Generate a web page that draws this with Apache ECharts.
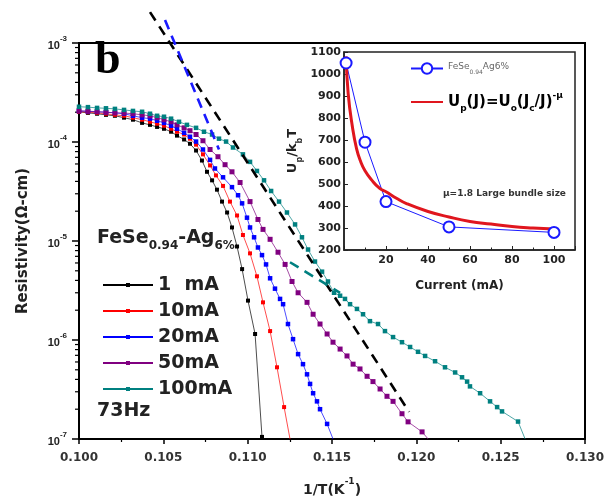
<!DOCTYPE html>
<html>
<head>
<meta charset="utf-8">
<script src="https://cdn.jsdelivr.net/npm/echarts@6/dist/echarts.min.js"></script>
<style>
html,body{margin:0;padding:0;background:#fff}
#chart{width:608px;height:502px}
</style>
</head>
<body>
<div id="chart"></div>
<script>
// main panel: resistivity vs 1/T for five currents (73 Hz)
var currents = ['1  mA', '10mA', '20mA', '50mA', '100mA'];
var colors = ['#000000', '#ff0000', '#0000ff', '#800080', '#008080'];

var invT1 = [0.10000,0.10053,0.10107,0.10160,0.10213,0.10267,0.10320,0.10374,0.10421,0.10463,
  0.10504,0.10546,0.10581,0.10623,0.10658,0.10694,0.10729,0.10759,0.10789,0.10818,
  0.10848,0.10878,0.10907,0.10937,0.10967,0.11002,0.11044,0.11085];
var rho1 = [2.02e-4,1.97e-4,1.93e-4,1.88e-4,1.84e-4,1.76e-4,1.68e-4,1.56e-4,1.49e-4,1.42e-4,
  1.36e-4,1.27e-4,1.16e-4,1.06e-4,9.6e-5,8.2e-5,6.5e-5,5.0e-5,4.1e-5,3.3e-5,
  2.5e-5,1.94e-5,1.37e-5,8.8e-6,5.2e-6,2.5e-6,1.15e-6,1.05e-7];

var invT10 = [0.10000,0.10053,0.10107,0.10160,0.10213,0.10267,0.10320,0.10374,0.10421,0.10463,
  0.10504,0.10546,0.10581,0.10623,0.10658,0.10694,0.10735,0.10777,0.10812,0.10854,
  0.10895,0.10937,0.10972,0.11014,0.11055,0.11091,0.11133,0.11174,0.11216];
var rho10 = [2.02e-4,2.00e-4,1.97e-4,1.93e-4,1.88e-4,1.84e-4,1.76e-4,1.68e-4,1.60e-4,1.53e-4,
  1.46e-4,1.36e-4,1.27e-4,1.19e-4,1.08e-4,9.4e-5,7.5e-5,5.8e-5,4.6e-5,3.6e-5,
  2.5e-5,1.81e-5,1.15e-5,7.5e-6,4.4e-6,2.4e-6,1.23e-6,5.3e-7,2.1e-7];

var invT20 = [0.10000,0.10053,0.10107,0.10160,0.10213,0.10267,0.10320,0.10374,0.10421,0.10463,
  0.10504,0.10546,0.10581,0.10623,0.10658,0.10694,0.10735,0.10777,0.10806,0.10854,
  0.10907,0.10943,0.10967,0.10996,0.11014,0.11038,0.11061,0.11085,0.11109,0.11133,
  0.11162,0.11192,0.11210,0.11239,0.11269,0.11299,0.11328,0.11352,0.11370,0.11388,
  0.11411,0.11429,0.11471];
var rho20 = [2.06e-4,2.04e-4,2.02e-4,2.00e-4,1.97e-4,1.93e-4,1.84e-4,1.76e-4,1.72e-4,1.64e-4,
  1.56e-4,1.46e-4,1.36e-4,1.24e-4,1.13e-4,1.01e-4,8.4e-5,6.6e-5,5.4e-5,4.4e-5,
  3.5e-5,2.9e-5,2.4e-5,1.72e-5,1.37e-5,1.09e-5,8.6e-6,7.2e-6,5.8e-6,4.2e-6,
  3.3e-6,2.6e-6,2.3e-6,1.45e-6,1.02e-6,7.2e-7,5.7e-7,4.5e-7,3.6e-7,2.9e-7,
  2.4e-7,2.0e-7,1.42e-7];

var invT50 = [0.10000,0.10053,0.10107,0.10160,0.10213,0.10267,0.10320,0.10374,0.10421,0.10463,
  0.10504,0.10546,0.10581,0.10623,0.10658,0.10694,0.10735,0.10777,0.10824,0.10866,
  0.10907,0.10955,0.11014,0.11061,0.11091,0.11133,0.11180,0.11222,0.11263,0.11299,
  0.11352,0.11388,0.11429,0.11471,0.11506,0.11548,0.11589,0.11625,0.11666,0.11708,
  0.11743,0.11785,0.11826,0.11862,0.11915,0.11951,0.12034];
var rho50 = [2.06e-4,2.05e-4,2.02e-4,2.00e-4,1.97e-4,1.96e-4,1.93e-4,1.88e-4,1.84e-4,1.76e-4,
  1.68e-4,1.60e-4,1.49e-4,1.39e-4,1.30e-4,1.19e-4,1.03e-4,8.4e-5,7.1e-5,5.9e-5,
  5.0e-5,3.9e-5,2.5e-5,1.65e-5,1.31e-5,1.04e-5,7.7e-6,5.8e-6,3.9e-6,3.0e-6,
  2.4e-6,1.82e-6,1.45e-6,1.15e-6,9.5e-7,8.1e-7,6.9e-7,5.7e-7,5.1e-7,4.3e-7,
  3.8e-7,3.2e-7,2.7e-7,2.4e-7,1.8e-7,1.49e-7,1.18e-7];

var invT100 = [0.10000,0.10053,0.10107,0.10160,0.10213,0.10267,0.10320,0.10374,0.10421,0.10463,
  0.10504,0.10546,0.10593,0.10640,0.10694,0.10741,0.10789,0.10830,0.10872,0.10913,
  0.10972,0.11014,0.11055,0.11097,0.11139,0.11186,0.11233,0.11281,0.11322,0.11358,
  0.11399,0.11441,0.11476,0.11512,0.11548,0.11577,0.11607,0.11648,0.11684,0.11725,
  0.11773,0.11814,0.11862,0.11915,0.11963,0.12010,0.12052,0.12111,0.12170,0.12230,
  0.12271,0.12301,0.12318,0.12378,0.12437,0.12479,0.12508,0.12603];
var rho100 = [2.27e-4,2.25e-4,2.21e-4,2.19e-4,2.16e-4,2.11e-4,2.06e-4,2.02e-4,1.93e-4,1.84e-4,
  1.80e-4,1.72e-4,1.60e-4,1.49e-4,1.39e-4,1.27e-4,1.19e-4,1.08e-4,1.01e-4,8.8e-5,
  7.5e-5,6.3e-5,5.1e-5,4.1e-5,3.2e-5,2.5e-5,1.94e-5,1.47e-5,1.09e-5,8.2e-6,
  6.2e-6,4.9e-6,3.9e-6,3.0e-6,2.8e-6,2.6e-6,2.3e-6,2.06e-6,1.82e-6,1.55e-6,
  1.45e-6,1.23e-6,1.07e-6,9.5e-7,8.5e-7,7.6e-7,6.9e-7,6.1e-7,5.3e-7,4.7e-7,
  4.2e-7,3.8e-7,3.4e-7,2.9e-7,2.4e-7,2.1e-7,1.9e-7,1.5e-7];

// where each connecting line reaches the bottom axis (no marker there)
var tailInvT = [null, 0.11251, 0.11506, 0.12070, 0.12645];

// dashed Arrhenius fits
var fitBlackX = [0.10421, 0.11957], fitBlackY = [2.05e-3, 1.88e-7];
var fitBlueX = [0.10510, 0.10830], fitBlueY = [1.71e-3, 8.4e-5];
var fitTealX = [0.11251, 0.11548], fitTealY = [6.1e-6, 3.0e-6];

var minorMult = [2, 3, 4, 5, 6, 7, 8, 9];
var decades = [-7, -6, -5, -4];

// inset: U/kT vs current
var insetI = [1, 10, 20, 50, 100];
var insetU = [1050, 690, 420, 305, 280];
var fitI = [1, 2, 4, 6, 8, 10, 13, 17, 20, 25, 30, 40, 50, 60, 70, 80, 90, 100];
var fitU = [1080, 910, 760, 660, 600, 560, 520, 480, 465, 435, 410, 375, 350, 330, 318, 307, 300, 295];

var xs = [invT1, invT10, invT20, invT50, invT100];
var ys = [rho1, rho10, rho20, rho50, rho100];
var symSizes = [4, 4, 4.5, 5, 4.5];

function zip(a, b) {
  var out = [];
  for (var i = 0; i < a.length; i++) out.push([a[i], b[i]]);
  return out;
}

var minorY = [];
decades.forEach(function (d) {
  minorMult.forEach(function (m) { minorY.push([0.1, m * Math.pow(10, d)]); });
});

var FONT = 'DejaVu Sans';
var series = [];
currents.forEach(function (name, i) {
  var d = zip(xs[i], ys[i]);
  if (tailInvT[i] != null) d.push({ value: [tailInvT[i], 1e-7], symbol: 'none' });
  series.push({
    name: name,
    type: 'line',
    xAxisIndex: 0,
    yAxisIndex: 0,
    data: d,
    symbol: 'rect',
    symbolSize: symSizes[i],
    color: colors[i],
    lineStyle: { width: 0.7, color: colors[i] },
    itemStyle: { color: colors[i] },
    z: 2
  });
});

function dashed(x, y, c) {
  return {
    type: 'line', xAxisIndex: 0, yAxisIndex: 0,
    data: zip(x, y), symbol: 'none', clip: false, z: 4,
    lineStyle: { color: c, width: 2.6, type: [10, 7] }
  };
}
series.push(dashed(fitBlackX, fitBlackY, '#000'));
series.push(dashed(fitBlueX, fitBlueY, '#1a1aff'));
series.push(dashed(fitTealX, fitTealY, '#008080'));

// log minor ticks on the left axis
series.push({
  type: 'custom', xAxisIndex: 0, yAxisIndex: 0, silent: true, clip: false,
  data: minorY,
  renderItem: function (params, api) {
    var p = api.coord([api.value(0), api.value(1)]);
    return { type: 'line', shape: { x1: p[0] - 4, y1: p[1], x2: p[0], y2: p[1] },
      style: { stroke: '#000', lineWidth: 1.2 } };
  }
});

series.push({
  name: 'FeSe0.94Ag6%', type: 'line', xAxisIndex: 1, yAxisIndex: 1,
  data: zip(insetI, insetU),
  symbol: 'emptyCircle', symbolSize: 11,
  color: '#1a1aff',
  itemStyle: { color: '#1a1aff', borderWidth: 2.2 },
  lineStyle: { color: '#1a1aff', width: 1 },
  z: 6
});
series.push({
  name: 'fit', type: 'line', xAxisIndex: 1, yAxisIndex: 1,
  data: zip(fitI, fitU), smooth: true, symbol: 'none',
  color: '#e0161e',
  lineStyle: { color: '#e0161e', width: 3 },
  z: 6
});

var chart = echarts.init(document.getElementById('chart'), null, { renderer: 'canvas' });
chart.setOption({
  animation: false,
  backgroundColor: '#fff',
  textStyle: { fontFamily: FONT },
  grid: [
    { left: 79, right: 23, top: 43, bottom: 62, show: true, borderColor: '#000', borderWidth: 2 },
    { left: 344, top: 52, width: 231, height: 198, show: true, backgroundColor: '#fff', borderColor: '#222', borderWidth: 1.5 }
  ],
  xAxis: [
    {
      type: 'value', gridIndex: 0, min: 0.1, max: 0.13, interval: 0.005,
      name: '{n|1/T(K}{s|-1}{n|)}', nameLocation: 'middle', nameGap: 38,
      nameTextStyle: { rich: {
        n: { fontSize: 14, fontWeight: 'bold', color: '#222', fontFamily: FONT, lineHeight: 20, verticalAlign: 'bottom' },
        s: { fontSize: 9, fontWeight: 'bold', color: '#222', fontFamily: FONT, lineHeight: 20, verticalAlign: 'top' }
      } },
      axisLine: { lineStyle: { color: '#000', width: 2 } },
      axisTick: { length: 5, lineStyle: { width: 1.5, color: '#000' } },
      minorTick: { show: true, splitNumber: 2, length: 3, lineStyle: { width: 1.2, color: '#000' } },
      splitLine: { show: false },
      axisLabel: { margin: 13, fontSize: 12, fontWeight: 'bold', color: '#333', fontFamily: FONT,
        formatter: function (v) { return v.toFixed(3); } }
    },
    {
      type: 'value', gridIndex: 1, min: 0, max: 110, interval: 20,
      name: 'Current (mA)', nameLocation: 'middle', nameGap: 30,
      nameTextStyle: { fontSize: 12, fontWeight: 'bold', color: '#222' },
      axisLine: { lineStyle: { color: '#222', width: 1.5 } },
      axisTick: { inside: true, length: 4, lineStyle: { color: '#222' } },
      minorTick: { show: true, splitNumber: 2, length: 2.5, lineStyle: { color: '#222' } },
      splitLine: { show: false },
      axisLabel: { margin: 5, fontSize: 11, fontWeight: 'bold', color: '#222',
        formatter: function (v) { return v === 0 ? '' : String(v); } }
    }
  ],
  yAxis: [
    {
      type: 'log', logBase: 10, gridIndex: 0, min: 1e-7, max: 1e-3,
      name: 'Resistivity(Ω-cm)', nameLocation: 'middle', nameGap: 48,
      nameTextStyle: { fontSize: 15, fontWeight: 'bold', color: '#222' },
      axisLine: { lineStyle: { color: '#000', width: 2 } },
      axisTick: { length: 7, lineStyle: { width: 1.5, color: '#000' } },
      splitLine: { show: false },
      axisLabel: {
        margin: 12,
        formatter: function (v) { return '{b|10}{s|' + Math.round(Math.log10(v)) + '}'; },
        rich: {
          b: { fontSize: 11, fontWeight: 'bold', color: '#222', fontFamily: 'Liberation Sans', lineHeight: 16, verticalAlign: 'bottom' },
          s: { fontSize: 8, fontWeight: 'bold', color: '#222', fontFamily: 'Liberation Sans', lineHeight: 16, verticalAlign: 'top' }
        }
      }
    },
    {
      type: 'value', gridIndex: 1, min: 200, max: 1100, interval: 100,
      name: '{n|U}{s|p}{n|/k}{s|b}{n|T}', nameLocation: 'middle', nameGap: 40,
      nameTextStyle: { rich: {
        n: { fontSize: 13, fontWeight: 'bold', color: '#222', fontFamily: FONT, lineHeight: 18, verticalAlign: 'top' },
        s: { fontSize: 8, fontWeight: 'bold', color: '#222', fontFamily: FONT, lineHeight: 18, verticalAlign: 'bottom' }
      } },
      axisLine: { lineStyle: { color: '#222', width: 1.5 } },
      axisTick: { inside: true, length: 4, lineStyle: { color: '#222' } },
      splitLine: { show: false },
      axisLabel: { margin: 3, fontSize: 11, fontWeight: 'bold', color: '#222',
        formatter: function (v) { return String(v); } }
    }
  ],
  legend: [
    {
      data: currents, orient: 'vertical', left: 97, top: 270,
      itemWidth: 50, itemHeight: 5, itemGap: 6,
      textStyle: { fontSize: 19, fontWeight: 'bold', color: '#222', lineHeight: 20, fontFamily: FONT }
    },
    {
      data: ['FeSe0.94Ag6%'], left: 405, top: 57, itemWidth: 32, itemHeight: 13, itemGap: 4, z: 8,
      formatter: function () { return '{a|FeSe}{b|0.94}{a|Ag6%}'; },
      textStyle: { rich: {
        a: { fontSize: 9, color: '#666', fontFamily: FONT, lineHeight: 13, verticalAlign: 'top' },
        b: { fontSize: 6, color: '#666', fontFamily: FONT, lineHeight: 13, verticalAlign: 'bottom' }
      } }
    },
    {
      data: [{ name: 'fit', itemStyle: { opacity: 0 } }], left: 405, top: 86, itemWidth: 32, itemHeight: 13, itemGap: 4, z: 8,
      formatter: function () { return '{u|U}{d|p}{u|(J)=U}{d|o}{u|(J}{d|c}{u|/J)}{p|-μ}'; },
      textStyle: { rich: {
        u: { fontSize: 15, fontWeight: 'bold', color: '#000', fontFamily: FONT, lineHeight: 22, verticalAlign: 'middle' },
        d: { fontSize: 9, fontWeight: 'bold', color: '#000', fontFamily: FONT, lineHeight: 22, verticalAlign: 'bottom' },
        p: { fontSize: 9, fontWeight: 'bold', color: '#000', fontFamily: FONT, lineHeight: 22, verticalAlign: 'top' }
      } }
    }
  ],
  graphic: [
    { type: 'text', left: 95, top: 38, z: 10,
      style: { text: 'b', font: 'bold 46px "Liberation Serif"', fill: '#000' } },
    { type: 'text', left: 97, top: 229, z: 10,
      style: { text: '{m|FeSe}{s|0.94}{m|-Ag}{s|6%}', rich: {
        m: { fontSize: 19, fontWeight: 'bold', fontFamily: FONT, fill: '#222', lineHeight: 26, verticalAlign: 'middle' },
        s: { fontSize: 12, fontWeight: 'bold', fontFamily: FONT, fill: '#222', lineHeight: 26, verticalAlign: 'bottom' }
      } } },
    { type: 'text', left: 97, top: 402, z: 10,
      style: { text: '73Hz', font: 'bold 19px "DejaVu Sans"', fill: '#222' } },
    { type: 'text', left: 443, top: 189, z: 10,
      style: { text: 'μ=1.8 Large bundle size', font: 'bold 9px "DejaVu Sans"', fill: '#333' } }
  ],
  series: series
});
</script>
</body>
</html>
